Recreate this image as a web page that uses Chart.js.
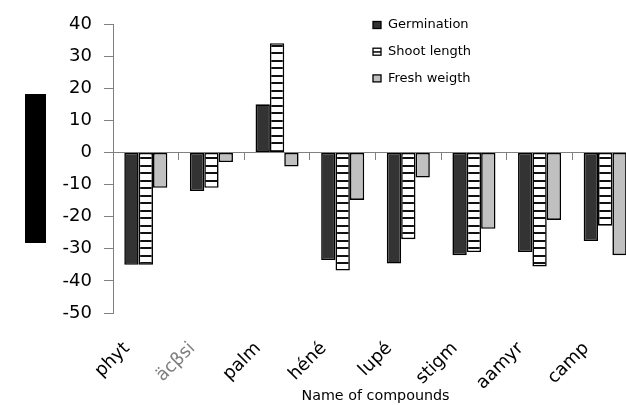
<!DOCTYPE html>
<html><head><meta charset="utf-8">
<script src="https://cdn.jsdelivr.net/npm/chart.js@4/dist/chart.umd.min.js"></script>
<style>html,body{margin:0;padding:0;overflow:hidden;background:#fff}#wrap{width:642px;height:405px;position:relative}</style>
</head><body><div id="wrap"><canvas id="c"></canvas></div>
<script>
const categories = ['phyt', 'äcβsi', 'palm', 'héné', 'lupé', 'stigm', 'aamyr', 'camp'];
const germination = [-35, -12, 15, -33.5, -34.6, -32, -31, -27.6];
const shootLength = [-35, -11, 34, -36.8, -27, -31, -35.5, -22.8];
const freshWeigth = [-11, -3, -4.4, -14.8, -7.8, -23.8, -21, -32];
const seriesNames = ['Germination', 'Shoot length', 'Fresh weigth'];
const yTicks = [40, 30, 20, 10, 0, -10, -20, -30, -40, -50];

const FONT = 'DejaVu Sans';

function stripePattern() {
  const pc = document.createElement('canvas');
  pc.width = 4; pc.height = 15;
  const p = pc.getContext('2d');
  p.fillStyle = '#ffffff'; p.fillRect(0, 0, 4, 15);
  p.fillStyle = '#111111';
  p.fillRect(0, 0, 4, 2);
  p.fillRect(0, 7, 4, 2);
  return document.createElement('canvas').getContext('2d').createPattern(pc, 'repeat');
}
const stripes = stripePattern();
const fills = ['#333333', stripes, '#c0c0c0'];

const legendPlugin = {
  id: 'sideLegend',
  afterDraw(chart) {
    const ctx = chart.ctx;
    const a = chart.chartArea;
    ctx.save();
    ctx.fillStyle = '#000';
    ctx.fillRect(25, 94, 21, 149);
    const x0 = a.left + 260;
    chart.data.datasets.forEach((ds, i) => {
      const cy = 25 + i * 26.7;
      ctx.fillStyle = i === 1 ? '#fff' : ds.backgroundColor;
      ctx.fillRect(x0, cy - 3.5, 8, 7);
      if (i === 1) {
        ctx.fillStyle = '#000';
        ctx.fillRect(x0, cy - 0.5, 8, 1.5);
      }
      ctx.strokeStyle = '#000';
      ctx.lineWidth = 1.3;
      ctx.strokeRect(x0, cy - 3.5, 8, 7);
      ctx.fillStyle = '#000';
      ctx.font = '13px "' + FONT + '"';
      ctx.textBaseline = 'middle';
      ctx.textAlign = 'left';
      ctx.fillText(ds.label, x0 + 15, cy);
    });
    ctx.restore();
  }
};

new Chart(document.getElementById('c'), {
  type: 'bar',
  data: {
    labels: categories,
    datasets: [germination, shootLength, freshWeigth].map((d, i) => ({
      label: seriesNames[i],
      data: d,
      xAxisID: 'x',
      backgroundColor: fills[i],
      borderColor: '#000',
      borderWidth: 1.6,
      borderSkipped: false,
      barPercentage: 1,
      categoryPercentage: 0.656
    }))
  },
  options: {
    responsive: true,
    maintainAspectRatio: false,
    devicePixelRatio: 1,
    animation: false,
    layout: { padding: { top: 24, right: 4, left: 0, bottom: 0 } },
    plugins: { legend: { display: false }, tooltip: { enabled: false } },
    scales: {
      x: {
        type: 'category',
        position: 'bottom',
        offset: true,
        grid: { display: false, drawTicks: false },
        border: { display: false },
        ticks: {
          autoSkip: false,
          maxRotation: 45,
          minRotation: 45,
          padding: 25,
          labelOffset: -19,
          font: { family: FONT, size: 18 },
          color: (c) => c.index === 1 ? '#808080' : '#000'
        },
        title: {
          display: true,
          text: 'Name of compounds',
          font: { family: FONT, size: 14.3 },
          color: '#000',
          padding: { top: 0, bottom: 0 }
        },
        afterFit: (s) => { s.height = 92; s.paddingLeft = 0; s.paddingRight = 0; }
      },
      x2: {
        type: 'category',
        position: { y: 0 },
        offset: true,
        grid: { display: true, offset: true, drawOnChartArea: false, drawTicks: true, tickLength: 7, color: '#808080', lineWidth: 1 },
        border: { display: true, color: '#808080', width: 1 },
        ticks: { display: false }
      },
      y: {
        min: -50,
        max: 40,
        afterBuildTicks: (s) => { s.ticks = yTicks.map(v => ({ value: v })); },
        grid: { display: true, drawOnChartArea: false, drawTicks: true, tickLength: 9, color: '#808080' },
        border: { display: true, color: '#808080', width: 1 },
        ticks: {
          padding: 12,
          font: { family: FONT, size: 18 },
          color: '#000'
        },
        afterFit: (s) => { s.width = 113; s.paddingTop = 0; s.paddingBottom = 0; }
      }
    }
  },
  plugins: [legendPlugin]
});
</script>
</body></html>
